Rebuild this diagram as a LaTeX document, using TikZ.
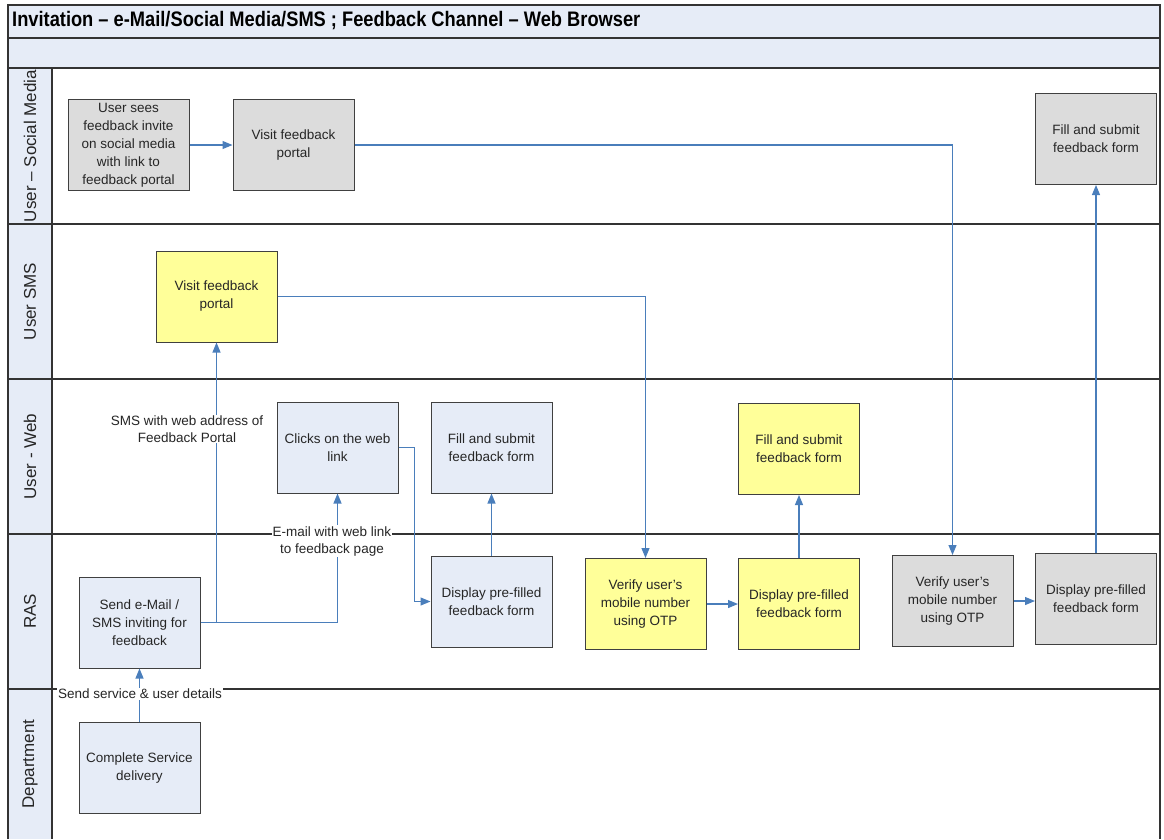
\documentclass[tikz,border=0pt]{standalone}
\usepackage{fontspec}
\setmainfont{Liberation Sans}
\usetikzlibrary{arrows.meta}
\definecolor{lanefill}{HTML}{E6ECF7}
\definecolor{boxgray}{HTML}{DCDCDC}
\definecolor{boxyellow}{HTML}{FFFF99}
\definecolor{flow}{HTML}{4A7EBB}
\definecolor{frame}{HTML}{333333}
\begin{document}
\begin{tikzpicture}[x=1pt,y=-1pt,
  lane/.style={draw=frame,line width=1.6pt},
  lanelabel/.style={rotate=90,font=\fontsize{17}{20}\selectfont,text=black!85},
  task/.style={draw=black!75,line width=1pt,minimum width=121pt,minimum height=91pt,
    align=center,font=\fontsize{13.5}{18}\selectfont,inner sep=2pt,text=black!85},
  ltask/.style={task,fill=lanefill},
  gtask/.style={task,fill=boxgray},
  ytask/.style={task,fill=boxyellow},
  flowline/.style={draw=flow,line width=1.1pt,-{Triangle[length=10pt,width=8pt]}},
  flowlabel/.style={fill=white,inner sep=1pt,align=center,
    font=\fontsize{13.5}{17}\selectfont,text=black!85}]
\useasboundingbox (0,0) rectangle (1164,839);

% header bands and lane label column
\fill[lanefill] (8,5) rectangle (1160,68);
\fill[lanefill] (8,68) rectangle (52,839);
\draw[lane] (8,839) -- (8,5) -- (1160,5) -- (1160,839);
\draw[lane] (8,38) -- (1160,38);
\draw[lane] (8,68) -- (1160,68);
\foreach \y in {224,379,534,689} \draw[lane] (8,\y) -- (1160,\y);
\draw[lane] (52,68) -- (52,839);

\node[anchor=west,font=\bfseries\fontsize{21}{24}\selectfont,inner sep=0pt] (title) at (12,21)
  {\scalebox{0.87}[1]{Invitation – e-Mail/Social Media/SMS ; Feedback Channel – Web Browser}};

% lane names
\node[lanelabel] (lsm)   at (30,146)   {User – Social Media};
\node[lanelabel] (lsms)  at (30,301.5) {User SMS};
\node[lanelabel] (lweb)  at (30,456.5) {User - Web};
\node[lanelabel] (lras)  at (30,611.5) {RAS};
\node[lanelabel] (ldept) at (30,764)   {Department};

% User - Social Media
\node[gtask] (sm1) at (128.5,145) {User sees\\feedback invite\\on social media\\with link to\\feedback portal};
\node[gtask] (sm2) at (293.5,145) {Visit feedback\\portal};
\node[gtask] (sm3) at (1096,139) {Fill and submit\\feedback form};

% User SMS
\node[ytask] (sms1) at (216.5,296.5) {Visit feedback\\portal};

% User - Web
\node[ltask] (web1) at (337.5,447.5) {Clicks on the web\\link};
\node[ltask] (web2) at (491.5,447.5) {Fill and submit\\feedback form};
\node[ytask] (web3) at (799,449) {Fill and submit\\feedback form};

% RAS
\node[ltask] (ras1) at (139.5,622.5) {Send e-Mail /\\SMS inviting for\\feedback};
\node[ltask] (ras2) at (491.5,601.5) {Display pre-filled\\feedback form};
\node[ytask] (ras3) at (645.5,604) {Verify user's\\mobile number\\using OTP};
\node[ytask] (ras4) at (799,604) {Display pre-filled\\feedback form};
\node[gtask] (ras5) at (952.5,601) {Verify user's\\mobile number\\using OTP};
\node[gtask] (ras6) at (1096,599) {Display pre-filled\\feedback form};

% Department
\node[ltask] (dept) at (139.5,767.5) {Complete Service\\delivery};

% flows
\draw[flowline] (sm1) -- (sm2);
\draw[flowline] (sm2.east) -| (ras5.north);
\draw[flowline] (sms1.east) -| (ras3.north);
\draw[flowline] (ras1.east) -| (sms1.south);
\draw[flowline] (ras1.east) -| (web1.south);
\draw[flowline] (web1.east) -- ++(16,0) |- (ras2.west);
\draw[flowline] (ras2.north) -- (web2.south);
\draw[flowline] (ras3.east) -- (ras4.west);
\draw[flowline] (ras4.north) -- (web3.south);
\draw[flowline] (ras5.east) -- (ras5.east -| ras6.west);
\draw[flowline] (ras6.north) -- (sm3.south);
\draw[flowline] (dept.north) -- (ras1.south);

% flow labels
\node[flowlabel] (smslabel) at (187,429) {SMS with web address of\\Feedback Portal};
\node[flowlabel] (maillabel) at (332,541) {E-mail with web link\\to feedback page};
\node[flowlabel] (deptlabel) at (140,694) {Send service \& user details};
\end{tikzpicture}
\end{document}
